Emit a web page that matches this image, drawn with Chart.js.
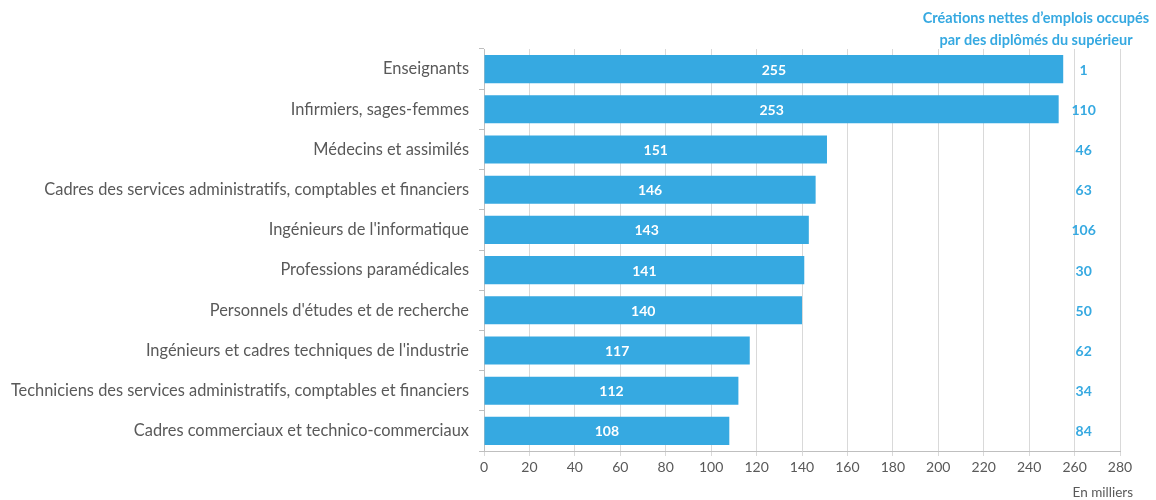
<!DOCTYPE html>
<html lang="fr">
<head>
<meta charset="utf-8">
<script src="https://cdn.jsdelivr.net/npm/chart.js@4"></script>
<style>
  html, body { margin: 0; padding: 0; background: #fff; }
  #wrap { width: 1156px; height: 500px; }
</style>
</head>
<body>
<div id="wrap"><canvas id="canvas" width="1156" height="500"></canvas></div>
<script>
// métiers, emplois occupés par des diplômés du supérieur (en milliers)
const metiers = [
  "Enseignants",
  "Infirmiers, sages-femmes",
  "Médecins et assimilés",
  "Cadres des services administratifs, comptables et financiers",
  "Ingénieurs de l'informatique",
  "Professions paramédicales",
  "Personnels d'études et de recherche",
  "Ingénieurs et cadres techniques de l'industrie",
  "Techniciens des services administratifs, comptables et financiers",
  "Cadres commerciaux et technico-commerciaux"
];
const emplois = [255, 253, 151, 146, 143, 141, 140, 117, 112, 108];
const creationsNettes = [1, 110, 46, 63, 106, 30, 50, 62, 34, 84];
const titreCreations = ["Créations nettes d\u2019emplois occupés", "par des diplômés du supérieur"];

const bleu = "#36a9e1";
const gris = "#595959";
const police = "Lato, 'Open Sans', sans-serif";

// chiffres dans les barres + colonne des créations nettes à droite
const etiquettes = {
  id: "etiquettes",
  afterDatasetsDraw(chart) {
    const ctx = chart.ctx;
    const xs = chart.scales.x;
    const meta = chart.getDatasetMeta(0);
    ctx.save();
    ctx.textBaseline = "middle";
    ctx.textAlign = "center";
    meta.data.forEach((bar, i) => {
      ctx.font = "bold 14px " + police;
      ctx.fillStyle = "#fff";
      ctx.fillText(emplois[i], (bar.x + bar.base) / 2, bar.y + 1);
      ctx.fillStyle = bleu;
      ctx.fillText(creationsNettes[i], xs.getPixelForValue(264), bar.y + 1);
    });
    ctx.font = "bold 14.5px " + police;
    ctx.fillStyle = bleu;
    ctx.fillText(titreCreations[0], 1036, 18);
    ctx.fillText(titreCreations[1], 1036, 40);
    ctx.textAlign = "right";
    ctx.font = "13.5px " + police;
    ctx.fillStyle = gris;
    ctx.fillText("En milliers", 1133, 493);
    ctx.restore();
  }
};

const ctx = document.getElementById("canvas").getContext("2d");

const graph = new Chart(ctx, {
  type: "bar",
  data: {
    labels: metiers,
    datasets: [{
      data: emplois,
      backgroundColor: bleu,
      borderWidth: 0,
      barPercentage: 0.7,
      categoryPercentage: 1
    }]
  },
  options: {
    indexAxis: "y",
    responsive: false,
    animation: false,
    layout: { padding: { left: 0, right: 36, top: 49, bottom: 0 } },
    plugins: {
      legend: { display: false },
      tooltip: { enabled: false }
    },
    scales: {
      x: {
        min: 0,
        max: 280,
        ticks: { stepSize: 20, color: gris, font: { family: police, size: 14 }, padding: 3 },
        grid: { color: "#d9d9d9", tickLength: 5, lineWidth: 1 },
        border: { color: "#bfbfbf" },
        afterFit(scale) { scale.height = 49; }
      },
      y: {
        offset: true,
        ticks: { color: gris, font: { family: police, size: 16.4 }, padding: 10 },
        grid: { offset: true, drawOnChartArea: false, tickLength: 5, color: "#bfbfbf" },
        border: { color: "#bfbfbf" },
        afterFit(scale) { scale.width = 484; }
      }
    }
  },
  plugins: [etiquettes]
});
</script>
</body>
</html>
